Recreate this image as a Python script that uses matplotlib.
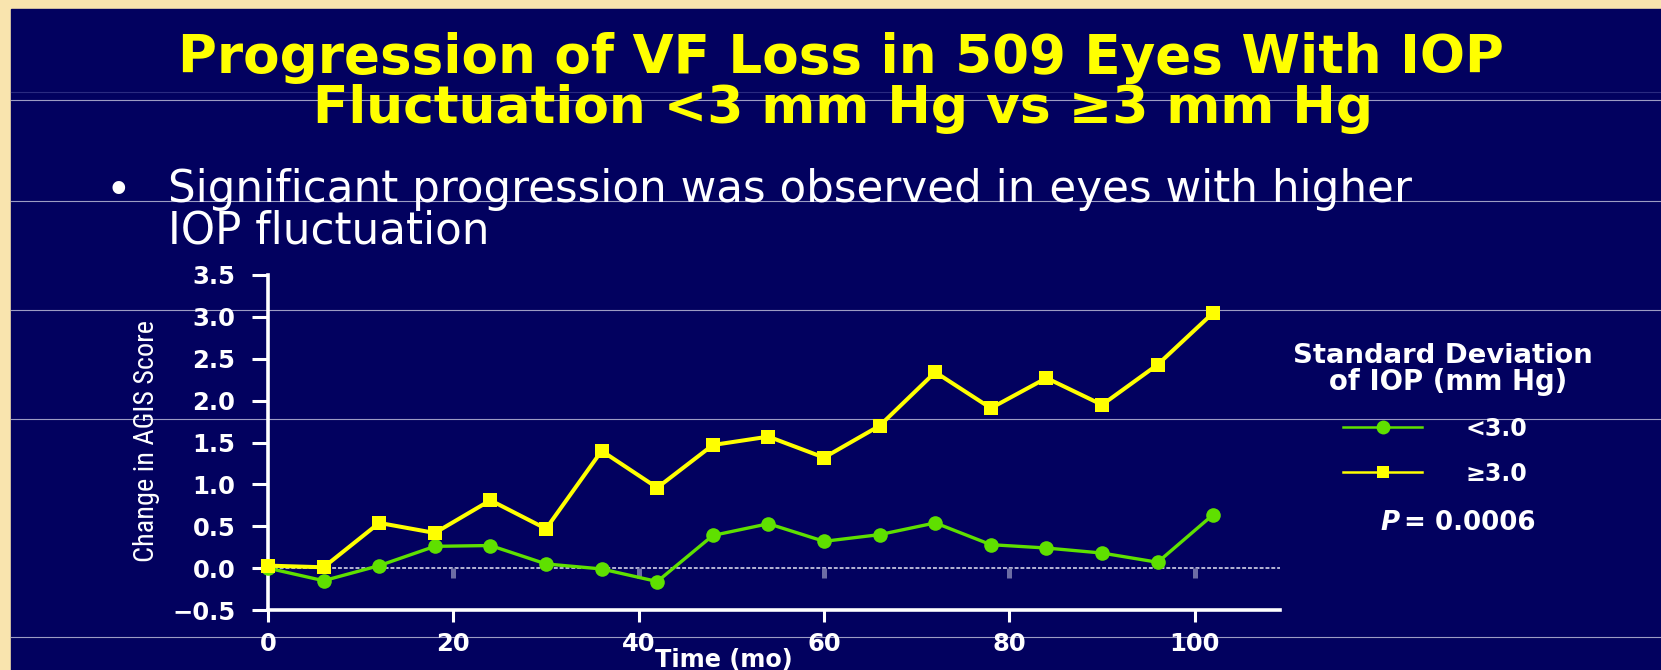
import matplotlib
matplotlib.use("Agg")
import matplotlib.pyplot as plt
from matplotlib.patches import Rectangle
from matplotlib.lines import Line2D
from matplotlib import font_manager

# ---------------- data ----------------
months = [0, 6, 12, 18, 24, 30, 36, 42, 48, 54, 60, 66, 72, 78, 84, 90, 96, 102]
sd_low = [0.00, -0.15, 0.03, 0.26, 0.27, 0.05, -0.01, -0.16, 0.39, 0.53,
          0.32, 0.40, 0.54, 0.28, 0.24, 0.18, 0.07, 0.64]          # SD < 3.0
sd_high = [0.03, 0.01, 0.54, 0.42, 0.81, 0.47, 1.40, 0.96, 1.47, 1.57,
           1.32, 1.70, 2.34, 1.91, 2.27, 1.95, 2.43, 3.05]        # SD >= 3.0
y_ticks = [-0.5, 0.0, 0.5, 1.0, 1.5, 2.0, 2.5, 3.0, 3.5]
x_ticks = [0, 20, 40, 60, 80, 100]
stub_ticks = [20, 40, 60, 80, 100]
title_lines = ["Progression of VF Loss in 509 Eyes With IOP",
               "Fluctuation <3 mm Hg vs \u22653 mm Hg"]
bullet_lines = ["Significant progression was observed in eyes with higher",
                "IOP fluctuation"]
legend_title = ["Standard Deviation", "of IOP (mm Hg)"]
series_labels = ["<3.0", "\u22653.0"]
p_label = "P"
p_value = "= 0.0006"
x_label = "Time (mo)"
y_label = "Change in AGIS Score"

# ---------------- style ----------------
W, H = 1661, 670
NAVY = "#02015F"
BEIGE = "#F9E4AE"
YELLOW = "#FFFF00"
GREEN = "#5FE000"
WHITE = "#FFFFFF"

names = sorted({f.name for f in font_manager.fontManager.ttflist})
NARROW = "DejaVu Sans"
for pref in ["Liberation Sans Narrow", "Arial Narrow", "Roboto Condensed",
             "Open Sans Condensed", "DejaVu Sans Condensed"]:
    if pref in names:
        NARROW = pref
        break
else:
    for n in names:
        if "Narrow" in n or "Condensed" in n:
            NARROW = n
            break
plt.rcParams["font.family"] = ["DejaVu Sans"]

fig = plt.figure(figsize=(W / 100, H / 100), dpi=100, facecolor=BEIGE)
bg = fig.add_axes([0, 0, 1, 1], zorder=0)
bg.set_xlim(0, W)
bg.set_ylim(H, 0)
bg.axis("off")
bg.add_patch(Rectangle((11, 9), W - 11, H - 9, color=NAVY, zorder=0))
# faint scan lines of the original slide
bg.plot([11, W], [92, 92], color="#2A2A80", lw=0.8, zorder=1)
for yy in [100, 201, 310, 419, 637]:
    bg.plot([11, W], [yy, yy], color="#9C9CC4", lw=0.8, zorder=1)

renderer = fig.canvas.get_renderer()


def fit(t, target_w, cap_px, ww=0.65, cap_ratio=0.73, vertical=False):
    t.set_fontsize(20)
    bb = t.get_window_extent(renderer)
    w = bb.height if vertical else bb.width
    wf = 20 * target_w / w
    hf = cap_px / cap_ratio * 0.72
    fs = wf ** ww * hf ** (1 - ww)
    t.set_fontsize(fs)
    return fs


def txt(x, y, s, target_w, cap_px, ww=0.65, **kw):
    kw.setdefault("color", WHITE)
    kw.setdefault("va", "baseline")
    t = bg.text(x, y, s, zorder=5, **kw)
    fit(t, target_w, cap_px, ww)
    return t


# title
txt(841, 73, title_lines[0], 1493, 30, ww=0.68, ha="center", color=YELLOW, fontweight="bold")
txt(843, 123, title_lines[1], 1184, 30, ww=0.68, ha="center", color=YELLOW, fontweight="bold")

# bullet
t1 = txt(168, 202, bullet_lines[0], 1407, 24, ww=0.7, ha="left")
fs_b = t1.get_fontsize()
bg.text(168, 243, bullet_lines[1], ha="left", va="baseline", color=WHITE,
        fontsize=fs_b, zorder=5)
bg.text(118, 192, "\u2022", ha="center", va="center", color=WHITE,
        fontsize=fs_b, zorder=5)

# legend block
txt(1443, 363, legend_title[0], 339, 16, ha="center", fontweight="bold")
txt(1448, 390, legend_title[1], 270, 16, ha="center", fontweight="bold")
for yy, col, mk, ms, lab in [(427, GREEN, "o", 10, series_labels[0]),
                             (472, YELLOW, "s", 8.5, series_labels[1])]:
    bg.add_line(Line2D([1343, 1422], [yy, yy], color=col, lw=1.8, zorder=5))
    bg.add_line(Line2D([1383], [yy], color=col, marker=mk, markersize=ms,
                       markeredgewidth=0, zorder=6))
    txt(1465, yy + 9, lab, 70, 14, ha="left", fontweight="bold")
tp = txt(1535, 530, p_value, 150, 15, ha="right", fontweight="bold")
bb = tp.get_window_extent(renderer)
left_px = bb.x0
bg.text(left_px - 4, 530, p_label, ha="right", va="baseline", color=WHITE,
        fontsize=tp.get_fontsize(), fontweight="bold", fontstyle="italic", zorder=5)

# x label / y label
txt(724, 667, x_label, 150, 15, ha="center", fontweight="bold")
yl = bg.text(146, 441, y_label, rotation=90, ha="center", va="center",
             color=WHITE, family=NARROW, zorder=5)
fit(yl, 237, 21, ww=0.5, vertical=True)

# ---------------- main chart ----------------
x0, x1, ytop, ybot = 268, 1280, 275, 610
ax = fig.add_axes([x0 / W, (H - ybot) / H, (x1 - x0) / W, (ybot - ytop) / H], zorder=2)
ax.patch.set_alpha(0)
ax.set_xlim(0, 109.2)
ax.set_ylim(-0.5, 3.5)
for s in ["top", "right"]:
    ax.spines[s].set_visible(False)
for s in ["left", "bottom"]:
    ax.spines[s].set_color(WHITE)
    ax.spines[s].set_linewidth(2.6)

ax.set_xticks(x_ticks)
ax.set_yticks(y_ticks)
ax.set_yticklabels([f"{v:.1f}".replace("-", "\u2212") for v in y_ticks])
ax.tick_params(axis="both", colors=WHITE, width=2.2, labelsize=17.5)
ax.tick_params(axis="y", length=11.5, pad=12)
ax.tick_params(axis="x", length=8.6, pad=7)
for lab in ax.get_xticklabels() + ax.get_yticklabels():
    lab.set_fontweight("bold")

# dotted zero reference and grey stubs
ax.axhline(0, color="#B4B4D4", lw=1.4, ls=(0, (2, 1)), zorder=1)
ax.vlines(stub_ticks, -0.12, 0.0, color="#6C6CA4", lw=3.6, zorder=1)

ax.plot(months, sd_low, color=GREEN, lw=2.4, marker="o", markersize=10.5,
        markeredgewidth=0, zorder=3, clip_on=False)
ax.plot(months, sd_high, color=YELLOW, lw=2.9, marker="s", markersize=9.5,
        markeredgewidth=0, zorder=4, clip_on=False)

fig.savefig("out.png", dpi=100, facecolor=BEIGE)
